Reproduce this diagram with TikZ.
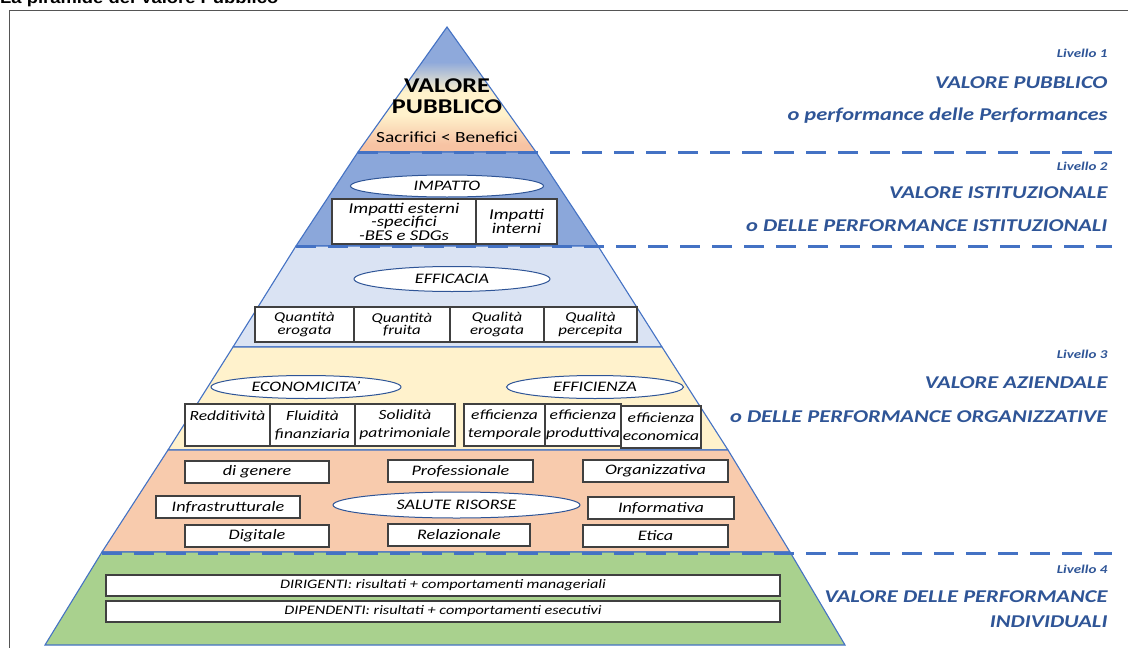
\documentclass[tikz,border=0pt]{standalone}
\usepackage{fontspec}
\setmainfont{Carlito}[FakeStretch=1.25]
\newfontfamily\titlefont{Liberation Sans}[FakeStretch=1.15]
\usetikzlibrary{shapes.geometric,calc}
\definecolor{pblue}{HTML}{4472C4}
\definecolor{tblue}{HTML}{2F5597}
\definecolor{lonetop}{HTML}{8EA9DB}
\definecolor{lonemid}{HTML}{FFF2CC}
\definecolor{lonebot}{HTML}{F7C3A3}
\definecolor{ltwo}{HTML}{8BA7DA}
\definecolor{lthree}{HTML}{DAE3F3}
\definecolor{lyel}{HTML}{FFF2CC}
\definecolor{lsal}{HTML}{F8CBAD}
\definecolor{lgreen}{HTML}{A9D18E}
\definecolor{framegray}{HTML}{555555}
\pgfdeclareverticalshading{lonesh}{100bp}{color(0bp)=(lonebot); color(25bp)=(lonebot); color(28bp)=(lonebot); color(40bp)=(lonemid); color(49bp)=(lonemid); color(61bp)=(lonetop); color(75bp)=(lonetop); color(100bp)=(lonetop)}
\newcommand\fsz[2]{\fontsize{#1}{#2}\selectfont}
\tikzset{
  band/.style={draw=pblue, line width=1.1pt},
  lbox/.style={rectangle, draw=black!75, line width=1.4pt, fill=white, inner sep=1pt, align=center},
  ell/.style={ellipse, draw=tblue, line width=1pt, fill=white, inner sep=0pt, font=\itshape\fsz{14.5}{14.5}},
  rlab/.style={anchor=east, text=tblue, font=\bfseries\itshape\fsz{18}{18}},
  llab/.style={anchor=east, text=tblue, font=\bfseries\itshape\fsz{12}{12}},
  dashline/.style={draw=pblue, line width=3pt, dash pattern=on 20pt off 12pt},
}
\begin{document}
\begin{tikzpicture}[x=1pt,y=-1pt]
\useasboundingbox (0,0) rectangle (1128,648);
\fill[white] (0,0) rectangle (1128,648);
% title (cut off) and frame
\node[anchor=base west, inner sep=0pt, font=\titlefont\bfseries\fsz{16}{16}] (title) at (0,3.5) {La piramide del Valore Pubblico};
\draw[framegray, line width=1pt] (1128,10) -- (9,10) -- (9,648);
% pyramid layers
\coordinate (apex) at (447,27);
\shade[shading=lonesh] (447,27) -- (536,152) -- (358,152) -- cycle;
\draw[band] (447,27) -- (536,152) -- (358,152) -- cycle;
\filldraw[band, fill=ltwo] (358,152) -- (536,152) -- (598,246) -- (296,246) -- cycle;
\filldraw[band, fill=lthree] (296,246) -- (598,246) -- (662,347) -- (233,347) -- cycle;
\filldraw[band, fill=lyel] (233,347) -- (662,347) -- (728,450) -- (168,450) -- cycle;
\filldraw[band, fill=lsal] (168,450) -- (728,450) -- (790,552) -- (102,552) -- cycle;
\filldraw[band, fill=lgreen] (102,552) -- (790,552) -- (845,645) -- (45,645) -- cycle;
% dashed separators
\coordinate (da1) at (358,152); \coordinate (db1) at (1112,152);
\coordinate (da2) at (296,246); \coordinate (db2) at (1112,246);
\coordinate (da3) at (102,553); \coordinate (db3) at (1112,553);
\draw[dashline] (da1) -- (db1);
\draw[dashline] (da2) -- (db2);
\draw[dashline] (da3) -- (db3);
% level 1 text
\node[font=\bfseries\fsz{21}{21.5}, align=center] (vp) at (447,96) {VALORE\\PUBBLICO};
\node[font=\fsz{15.5}{15.5}] (sb) at (447,137) {Sacrifici < Benefici};
% level 2
\node[ell, minimum width=193, minimum height=22] (impatto) at (447,186) {IMPATTO};
\node[lbox, minimum width=144, minimum height=45, font=\itshape\fsz{15}{12}] (imp1) at (404,221.5) {Impatti esterni\\-specifici\\-BES e SDGs};
\node[lbox, minimum width=81, minimum height=45, font=\itshape\fsz{15}{12.5}] (imp2) at (516.5,221.5) {Impatti\\interni};
% efficacia
\node[ell, minimum width=196, minimum height=25] (efficacia) at (452,279) {EFFICACIA};
\tikzset{qbox/.style={lbox, minimum height=35, font=\itshape\fsz{13.5}{12.5}}}
\node[qbox, minimum width=99] (q1) at (304.5,324.5) {Quantità\\erogata};
\node[qbox, minimum width=96] (q2) at (402,324.5) {Quantità\\fruita};
\node[qbox, minimum width=94] (q3) at (497,324.5) {Qualità\\erogata};
\node[qbox, minimum width=93] (q4) at (590.5,324.5) {Qualità\\percepita};
% economicita / efficienza
\node[ell, minimum width=190, minimum height=23] (econ) at (306,387) {ECONOMICITA'};
\node[ell, minimum width=177, minimum height=23] (effic) at (595,387) {EFFICIENZA};
\tikzset{rbox/.style={lbox, minimum height=42, font=\itshape\fsz{14}{18}}}
\node[rbox, minimum width=85] (r1) at (227.5,425) {Redditività\\\phantom{x}};
\node[rbox, minimum width=85] (r2) at (312.5,425) {Fluidità\\finanziaria};
\node[rbox, minimum width=100] (r3) at (405,425) {Solidità\\patrimoniale};
\node[rbox, minimum width=81] (e1) at (504.5,425) {efficienza\\temporale};
\node[rbox, minimum width=76] (e2) at (583,425) {efficienza\\produttiva};
\node[rbox, minimum width=80] (e3) at (661,427) {efficienza\\economica};
% salute risorse
\tikzset{sbox/.style={lbox, minimum height=22, font=\itshape\fsz{14.5}{14.5}}}
\node[sbox, minimum width=144] (s1) at (257,472) {di genere};
\node[sbox, minimum width=145] (s2) at (460.5,471) {Professionale};
\node[sbox, minimum width=145] (s3) at (655.5,471) {Organizzativa};
\node[sbox, minimum width=144] (s4) at (228,507) {Infrastrutturale};
\node[ell, minimum width=247, minimum height=26] (salute) at (456.5,505) {SALUTE RISORSE};
\node[sbox, minimum width=146] (s5) at (661,508) {Informativa};
\node[sbox, minimum width=144] (s6) at (257,536) {Digitale};
\node[sbox, minimum width=142] (s7) at (459,535) {Relazionale};
\node[sbox, minimum width=145] (s8) at (655.5,536) {Etica};
% individual
\node[lbox, minimum width=674, minimum height=21, font=\itshape\fsz{13}{13}] (dir) at (443,585.5) {DIRIGENTI: risultati + comportamenti manageriali};
\node[lbox, minimum width=674, minimum height=21, font=\itshape\fsz{13}{13}] (dip) at (443,611.5) {DIPENDENTI: risultati + comportamenti esecutivi};
% right labels
\node[llab] (liv1) at (1111,53) {Livello 1};
\node[rlab] (vp1) at (1111,83) {VALORE PUBBLICO};
\node[rlab] (vp2) at (1111,116) {o performance delle Performances};
\node[llab] (liv2) at (1111,166) {Livello 2};
\node[rlab] (vi1) at (1111,193) {VALORE ISTITUZIONALE};
\node[rlab] (vi2) at (1111,226) {o DELLE PERFORMANCE ISTITUZIONALI};
\node[llab] (liv3) at (1111,354) {Livello 3};
\node[rlab] (va1) at (1111,383) {VALORE AZIENDALE};
\node[rlab] (va2) at (1111,417) {o DELLE PERFORMANCE ORGANIZZATIVE};
\node[llab] (liv4) at (1111,569) {Livello 4};
\node[rlab] (vd1) at (1111,597) {VALORE DELLE PERFORMANCE};
\node[rlab] (vd2) at (1111,622) {INDIVIDUALI};
\end{tikzpicture}
\end{document}
